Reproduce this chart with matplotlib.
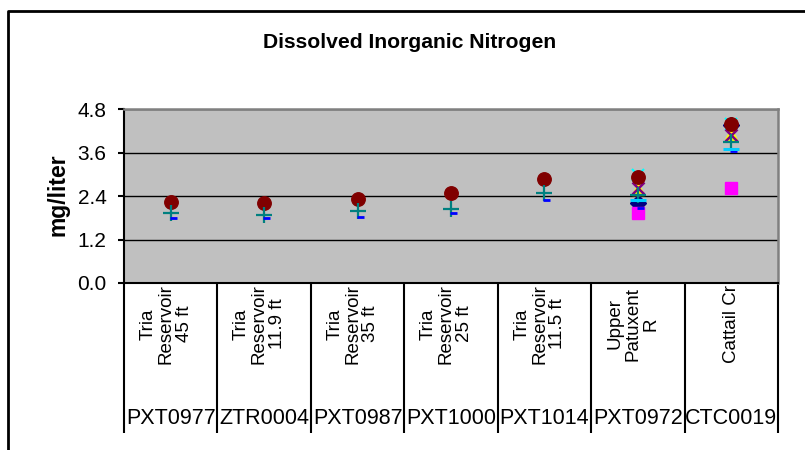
import numpy as np
import matplotlib
matplotlib.use("Agg")
import matplotlib.pyplot as plt
import matplotlib.transforms as mtrans
from matplotlib.lines import Line2D
from matplotlib.path import Path

plt.rcParams['font.family'] = ['Liberation Sans', 'DejaVu Sans']

nan = np.nan

# categories (two-level axis)
sites = ["Tria\nReservoir\n45 ft", "Tria\nReservoir\n11.9 ft", "Tria\nReservoir\n35 ft",
         "Tria\nReservoir\n25 ft", "Tria\nReservoir\n11.5 ft", "Upper\nPatuxent\nR",
         "Cattail Cr"]
stations = ["PXT0977", "ZTR0004", "PXT0987", "PXT1000", "PXT1014", "PXT0972", "CTC0019"]

# series values (mg/liter)
s_navy = [nan, nan, nan, nan, nan, 2.21, 4.36]
s_magenta = [nan, nan, nan, nan, nan, 1.93, 2.62]
s_yellow = [nan, nan, nan, nan, nan, 2.59, 4.10]
s_cyan = [nan, nan, nan, nan, nan, 2.97, 4.40]
s_purple = [nan, nan, nan, nan, nan, 2.61, 4.08]
s_maroon = [2.24, 2.21, 2.32, 2.49, 2.87, 2.93, 4.38]
s_teal = [1.92, 1.87, 1.99, 2.04, 2.49, 2.42, 3.88]
s_blue = [1.79, 1.79, 1.83, 1.93, 2.28, 2.06, 3.65]
s_sky = [nan, nan, nan, nan, nan, 2.28, 3.71]

yticks = [0.0, 1.2, 2.4, 3.6, 4.8]

W, H = 805, 450
fig = plt.figure(figsize=(W / 100, H / 100), dpi=100)

# outer chart border (left and top only visible)
fig.add_artist(Line2D([8 / W, 8 / W, 1.0], [0, 1 - 11 / H, 1 - 11 / H],
                      transform=fig.transFigure, color='black', lw=2))

fig.text(410 / W, 1 - 42 / H, "Dissolved Inorganic Nitrogen", ha='center', va='center',
         fontsize=15.2, fontweight='bold')
fig.text(58 / W, 1 - 195 / H, "mg/liter", rotation=90, ha='center', va='center',
         fontsize=16.5, fontweight='bold')

ax = fig.add_axes([124 / W, 1 - 283 / H, (778 - 124) / W, (283 - 109) / H])
ax.set_facecolor('#C0C0C0')
ax.set_axisbelow(True)

x = np.arange(1, len(stations) + 1)

# short off-centre dash like the spreadsheet marker
dash = Path([(-0.17, 0), (1, 0)], [Path.MOVETO, Path.LINETO])

ax.plot(x, s_navy, ls='none', marker='D', ms=8, color='#000080')
ax.plot(x, s_magenta, ls='none', marker='s', ms=8.5, color='#FF00FF')
ax.plot(x, s_yellow, ls='none', marker='^', ms=8, color='#FFFF00')
ax.plot(x, s_cyan, ls='none', marker='x', ms=8, mew=1.5, color='#00FFFF')
ax.plot(x, s_purple, ls='none', marker='x', ms=8, mew=1.8, color='#800080')
ax.plot(x, s_maroon, ls='none', marker='o', ms=9.7, color='#800000')
ax.plot(x, s_teal, ls='none', marker='+', ms=11.5, mew=1.6, color='#008080')
ax.plot(x, s_blue, ls='none', marker=dash, ms=8.5, mew=2, color='#0000FF')
ax.plot(x, s_sky, ls='none', marker='_', ms=11, mew=2.2, color='#00CCFF')

ax.set_ylim(0, 4.8)
ax.set_yticks(yticks)
ax.set_yticklabels(['%.1f' % v for v in yticks], fontsize=15)
ax.yaxis.grid(True, color='black', lw=1)
ax.tick_params(axis='y', direction='out', length=4.5, width=1.5, pad=8)

ax.set_xlim(0.5, len(stations) + 0.5)
ax.set_xticks(np.arange(0.5, len(stations) + 1, 1))
ax.set_xticklabels([])
ax.tick_params(axis='x', direction='out', length=108, width=1.5)

for side in ['left', 'bottom']:
    ax.spines[side].set_color('black')
    ax.spines[side].set_linewidth(1.5)
for side in ['top', 'right']:
    ax.spines[side].set_color('#808080')
    ax.spines[side].set_linewidth(1.8)

trans = mtrans.blended_transform_factory(ax.transData, ax.transAxes)
for i in range(len(stations)):
    xi = x[i] - 0.05 if '\n' in sites[i] else x[i]
    ax.text(xi, -0.235, sites[i], transform=trans, rotation=90, ha='center', va='center',
            multialignment='center', fontsize=13.5,
            family=['Liberation Sans Narrow', 'Liberation Sans'], linespacing=1.08)
    ax.text(x[i], -0.776, stations[i], transform=trans, ha='center', va='center',
            fontsize=15.5)

fig.savefig('out.png', dpi=100)
